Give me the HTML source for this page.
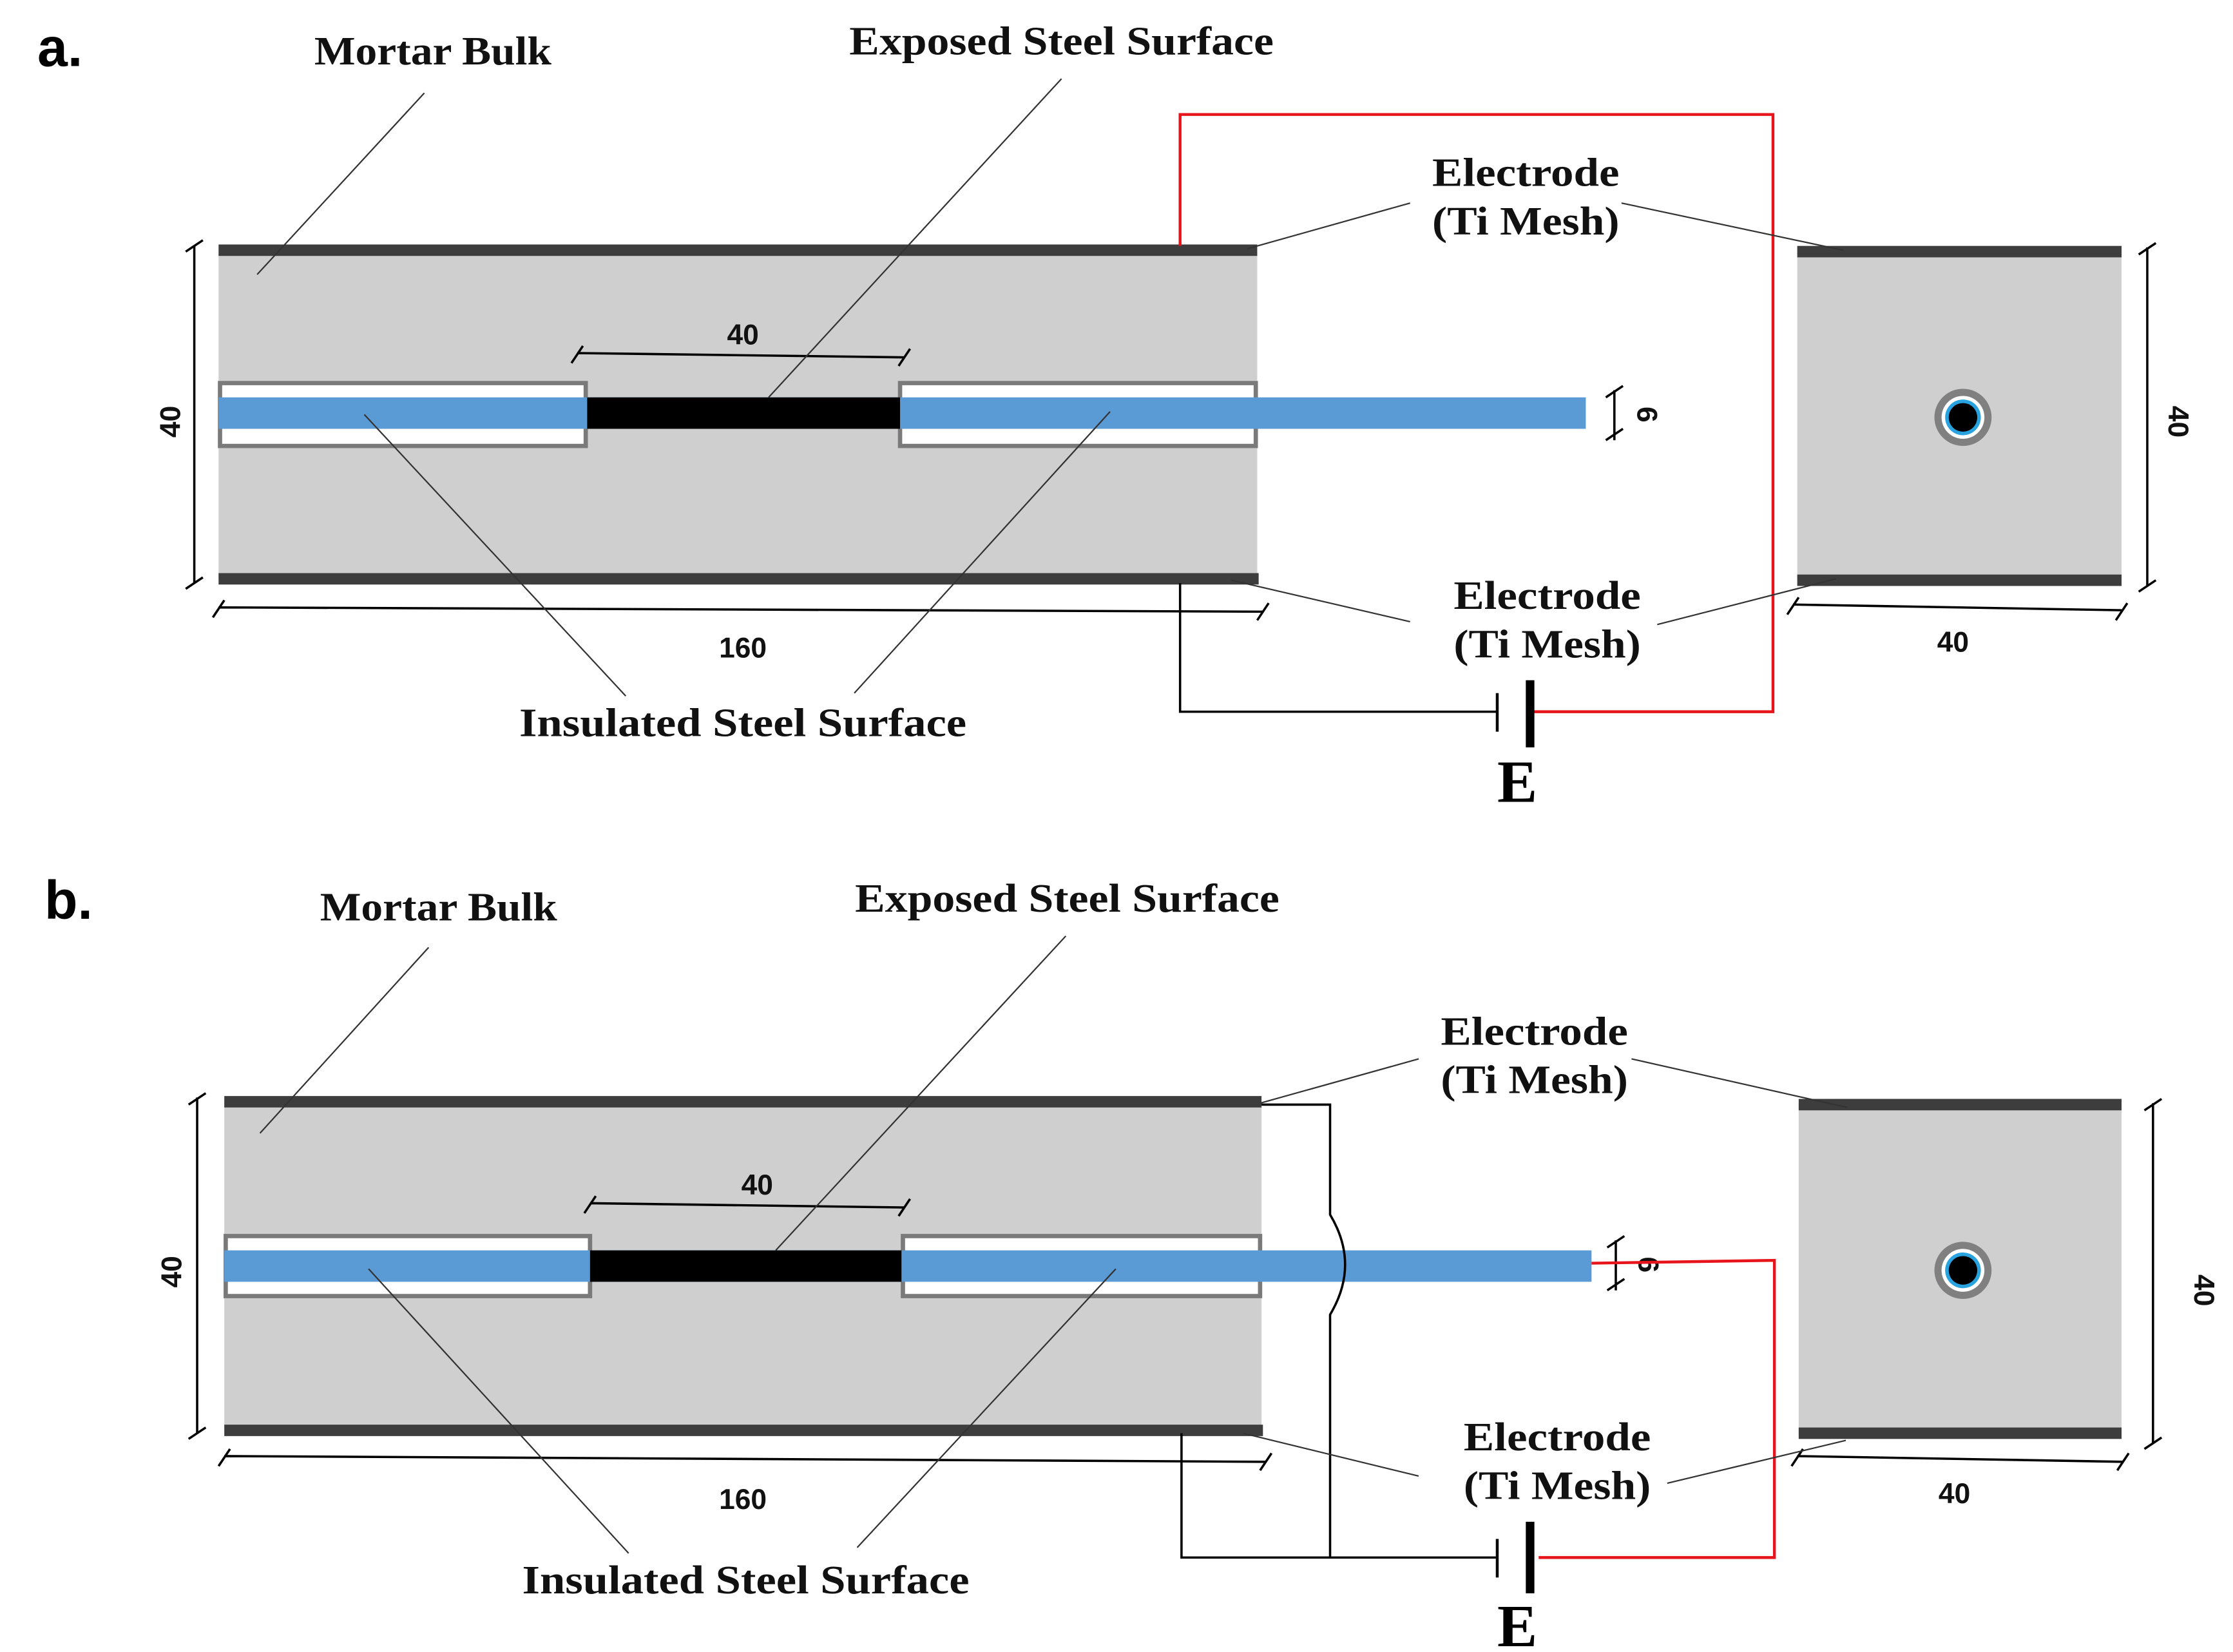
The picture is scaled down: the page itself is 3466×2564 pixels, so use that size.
<!DOCTYPE html>
<html><head><meta charset="utf-8"><style>html,body{margin:0;padding:0;background:#fff}svg{display:block}</style></head>
<body>
<svg width="3466" height="2564" viewBox="0 0 1563 1156" xmlns="http://www.w3.org/2000/svg">
<defs>
<g id="circ">
<circle r="20" fill="#808080"/><circle r="15" fill="#fff"/><circle r="12.5" fill="#29a3e0"/><circle r="10" fill="#000"/>
</g>
</defs>
<style>
.lb{font-family:"Liberation Serif",serif;font-weight:bold;font-size:28px;fill:#111;text-anchor:middle}
.nm{font-family:"Liberation Sans",sans-serif;font-weight:bold;font-size:20px;fill:#111;text-anchor:middle}
.ld{stroke:#333;stroke-width:1;fill:none}
.dm{stroke:#000;stroke-width:1.6;fill:none}
</style>

<!-- ===== Panel a ===== -->
<text x="42" y="46" font-family="Liberation Sans,sans-serif" font-weight="bold" font-size="38" text-anchor="middle">a.</text>
<rect x="153" y="176" width="727" height="230" fill="#d0cfd0"/>
<rect x="153" y="171" width="727" height="8" fill="#3d3d3d"/>
<rect x="153" y="401" width="728" height="8" fill="#3d3d3d"/>
<rect x="154" y="268" width="256" height="44" fill="#fff" stroke="#7a7a7a" stroke-width="3"/>
<rect x="630" y="268" width="249" height="44" fill="#fff" stroke="#7a7a7a" stroke-width="3"/>
<rect x="153" y="278" width="957" height="22" fill="#5b9bd5"/>
<rect x="411" y="278" width="219" height="22" fill="#000"/>
<rect x="1258" y="176" width="227" height="230" fill="#d0cfd0"/>
<rect x="1258" y="172" width="227" height="8" fill="#3d3d3d"/>
<rect x="1258" y="402" width="227" height="8" fill="#3d3d3d"/>
<use href="#circ" x="1374" y="292"/>
<path class="dm" d="M136 172V408M130 176l12-8M130 412l12-8"/>
<text class="nm" transform="translate(126,295) rotate(-90)">40</text>
<path class="dm" d="M153 425L884 428M149 432l8-12M880 434l8-12"/>
<text class="nm" x="520" y="460">160</text>
<path class="dm" d="M404 247L633 250M400 254l8-12M629 256l8-12"/>
<text class="nm" x="520" y="241">40</text>
<path class="dm" d="M1130 273V308M1124 278l12-8M1124 308l12-8"/>
<text class="nm" transform="translate(1146,290) rotate(90)">6</text>
<path class="dm" d="M1503 173V410M1497 178l12-8M1497 414l12-8"/>
<text class="nm" transform="translate(1518,295) rotate(90)">40</text>
<path class="dm" d="M1255 423L1485 427M1251 430l8-12M1481 434l8-12"/>
<text class="nm" x="1367" y="456">40</text>
<path d="M826 172V80H1241V498H1072" stroke="#e8141c" stroke-width="2" fill="none"/>
<path d="M826 408V498H1048" stroke="#000" stroke-width="1.6" fill="none"/>
<path d="M1048 485V512" stroke="#000" stroke-width="2"/>
<path d="M1071 476V523" stroke="#000" stroke-width="6"/>
<text x="1062" y="561" font-family="Liberation Serif,serif" font-weight="bold" font-size="42" text-anchor="middle" textLength="28" lengthAdjust="spacingAndGlyphs">E</text>
<text class="lb" x="303" y="45" textLength="166" lengthAdjust="spacingAndGlyphs">Mortar Bulk</text>
<path class="ld" d="M297 65L180 192"/>
<text class="lb" x="743" y="38" textLength="297" lengthAdjust="spacingAndGlyphs">Exposed Steel Surface</text>
<path class="ld" d="M743 55L538 278"/>
<text class="lb" x="1068" y="130" textLength="131" lengthAdjust="spacingAndGlyphs">Electrode</text>
<text class="lb" x="1068" y="164" textLength="131" lengthAdjust="spacingAndGlyphs">(Ti Mesh)</text>
<path class="ld" d="M987 142L873 174M1135 142L1290 175"/>
<text class="lb" x="1083" y="426" textLength="131" lengthAdjust="spacingAndGlyphs">Electrode</text>
<text class="lb" x="1083" y="460" textLength="131" lengthAdjust="spacingAndGlyphs">(Ti Mesh)</text>
<path class="ld" d="M987 435L862 406M1160 437L1285 405"/>
<text class="lb" x="520" y="515" textLength="313" lengthAdjust="spacingAndGlyphs">Insulated Steel Surface</text>
<path class="ld" d="M438 487L255 290M598 485L777 288"/>

<!-- ===== Panel b ===== -->
<text x="48" y="643" font-family="Liberation Sans,sans-serif" font-weight="bold" font-size="38" text-anchor="middle">b.</text>
<rect x="157" y="772" width="726" height="230" fill="#d0cfd0"/>
<rect x="157" y="767" width="726" height="8" fill="#3d3d3d"/>
<rect x="157" y="997" width="727" height="8" fill="#3d3d3d"/>
<rect x="158" y="865" width="255" height="42" fill="#fff" stroke="#7a7a7a" stroke-width="3"/>
<rect x="632" y="865" width="250" height="42" fill="#fff" stroke="#7a7a7a" stroke-width="3"/>
<rect x="157" y="875" width="957" height="22" fill="#5b9bd5"/>
<rect x="413" y="875" width="218" height="22" fill="#000"/>
<rect x="1259" y="772" width="226" height="232" fill="#d0cfd0"/>
<rect x="1259" y="769" width="226" height="8" fill="#3d3d3d"/>
<rect x="1259" y="999" width="226" height="8" fill="#3d3d3d"/>
<use href="#circ" x="1374" y="889"/>
<path class="dm" d="M138 768V1003M132 773l12-8M132 1007l12-8"/>
<text class="nm" transform="translate(127,890) rotate(-90)">40</text>
<path class="dm" d="M157 1019L886 1023M153 1026l8-12M882 1029l8-12"/>
<text class="nm" x="520" y="1056">160</text>
<path class="dm" d="M413 842L633 845M409 849l8-12M629 851l8-12"/>
<text class="nm" x="530" y="836">40</text>
<path class="dm" d="M1131 868V903M1125 873l12-8M1125 903l12-8"/>
<text class="nm" transform="translate(1147,885) rotate(90)">6</text>
<path class="dm" d="M1507 772V1010M1501 777l12-8M1501 1014l12-8"/>
<text class="nm" transform="translate(1536,903) rotate(90)">40</text>
<path class="dm" d="M1258 1019L1486 1023M1254 1026l8-12M1482 1029l8-12"/>
<text class="nm" x="1368" y="1052">40</text>
<path d="M883 773H931V850Q952 885 931 920V1090" stroke="#000" stroke-width="1.6" fill="none"/>
<path d="M827 1003V1090H1048" stroke="#000" stroke-width="1.6" fill="none"/>
<path d="M1077 1090H1242V882L1114 884" stroke="#e8141c" stroke-width="2" fill="none"/>
<path d="M1048 1077V1104" stroke="#000" stroke-width="2"/>
<path d="M1071 1065V1115" stroke="#000" stroke-width="6"/>
<text x="1062" y="1152" font-family="Liberation Serif,serif" font-weight="bold" font-size="42" text-anchor="middle" textLength="28" lengthAdjust="spacingAndGlyphs">E</text>
<text class="lb" x="307" y="644" textLength="166" lengthAdjust="spacingAndGlyphs">Mortar Bulk</text>
<path class="ld" d="M300 663L182 793"/>
<text class="lb" x="747" y="638" textLength="297" lengthAdjust="spacingAndGlyphs">Exposed Steel Surface</text>
<path class="ld" d="M746 655L543 875"/>
<text class="lb" x="1074" y="731" textLength="131" lengthAdjust="spacingAndGlyphs">Electrode</text>
<text class="lb" x="1074" y="765" textLength="131" lengthAdjust="spacingAndGlyphs">(Ti Mesh)</text>
<path class="ld" d="M993 741L882 772M1142 741L1293 775"/>
<text class="lb" x="1090" y="1015" textLength="131" lengthAdjust="spacingAndGlyphs">Electrode</text>
<text class="lb" x="1090" y="1049" textLength="131" lengthAdjust="spacingAndGlyphs">(Ti Mesh)</text>
<path class="ld" d="M993 1033L870 1003M1167 1038L1292 1008"/>
<text class="lb" x="522" y="1115" textLength="313" lengthAdjust="spacingAndGlyphs">Insulated Steel Surface</text>
<path class="ld" d="M440 1087L258 888M600 1083L781 888"/>
</svg>
</body></html>
